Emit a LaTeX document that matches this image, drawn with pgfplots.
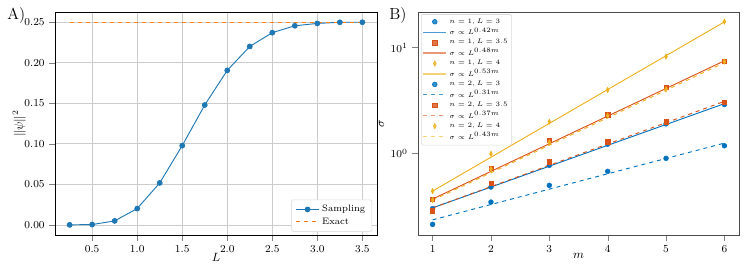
\documentclass[border=0pt]{standalone}
\usepackage{pgfplots}
\pgfplotsset{compat=1.18}
\definecolor{tabblue}{HTML}{1F77B4}
\definecolor{taborange}{HTML}{FF7F0E}
\definecolor{mblue}{RGB}{0,114,189}
\definecolor{mred}{RGB}{217,83,25}
\definecolor{morange}{RGB}{237,177,32}
\begin{document}
\begin{tikzpicture}
\path[use as bounding box] (0pt,0pt) rectangle (560.25pt,198pt);
% Panel A
\begin{axis}[
  at={(41.25pt,21.75pt)}, anchor=south west, scale only axis,
  width=241.5pt, height=167.25pt,
  xmin=0.0875, xmax=3.6625, ymin=-0.0125, ymax=0.2625,
  xtick={0.5,1.0,1.5,2.0,2.5,3.0,3.5},
  ytick={0,0.05,0.10,0.15,0.20,0.25},
  xticklabel style={/pgf/number format/.cd,fixed,fixed zerofill,precision=1},
  yticklabel style={/pgf/number format/.cd,fixed,fixed zerofill,precision=2},
  scaled y ticks=false,
  tick label style={font=\footnotesize},
  label style={font=\small},
  grid=major, major grid style={gray!40, line width=0.5pt},
  tick align=outside, tick pos=left,
  xlabel={$L$}, ylabel={$\|\psi\|^2$},
  xlabel style={yshift=6pt}, ylabel style={yshift=-8pt},
  legend style={at={(0.985,0.015)}, anchor=south east, font=\scriptsize, draw=gray!30, rounded corners=1pt, row sep=-1pt},
  legend cell align=left,
]
\addplot[tabblue, line width=0.7pt, mark=*, mark size=1.8pt] coordinates {
(0.25,0.0) (0.5,0.0004) (0.75,0.0049) (1.0,0.0201) (1.25,0.0517) (1.5,0.0977)
(1.75,0.1478) (2.0,0.1905) (2.25,0.2200) (2.5,0.2370) (2.75,0.2455) (3.0,0.2484)
(3.25,0.2498) (3.5,0.2499)};
\addlegendentry{Sampling}
\addplot[taborange, dashed, line width=0.6pt, legend image post style={line width=0.8pt}] coordinates {(0.25,0.25) (3.5,0.25)};
\addlegendentry{Exact}
\end{axis}
\node[anchor=north west, font=\large] at (2pt,196pt) {A)};
% Panel B
\begin{axis}[
  at={(313.5pt,21.75pt)}, anchor=south west, scale only axis,
  width=240.75pt, height=167.25pt,
  ymode=log, log basis y=10,
  xmin=0.75, xmax=6.25, ymin=0.169, ymax=21.7,
  xtick={1,2,3,4,5,6},
  ytick={1,10},
  tick label style={font=\footnotesize},
  label style={font=\small},
  axis line style={black!70},
  tick align=outside, tick pos=left,
  xlabel={$m$}, ylabel={$\sigma$},
  xlabel style={yshift=6pt}, ylabel style={yshift=-2pt},
  legend style={at={(0.01,0.99)}, anchor=north west, font=\tiny, draw=gray!30, rounded corners=1pt, row sep=-2.0pt, inner sep=1pt, fill opacity=0.8, text opacity=1},
  legend cell align=left,
]
% n=1, L=3
\addplot[only marks, mark=*, mark size=1.8pt, mblue] coordinates {
(1,0.30) (2,0.48) (3,0.77) (4,1.22) (5,1.90) (6,2.90)};
\addlegendentry{$n=1, L=3$}
\addplot[mblue, line width=0.7pt, legend image post style={draw=mblue!70, line width=0.9pt}] coordinates {(1,0.305) (6,2.95)};
\addlegendentry{$\sigma\propto L^{0.42m}$}
% n=1, L=3.5
\addplot[only marks, mark=square*, mark size=1.6pt, mred] coordinates {
(1,0.367) (2,0.721) (3,1.32) (4,2.31) (5,4.21) (6,7.48)};
\addlegendentry{$n=1, L=3.5$}
\addplot[mred, line width=0.7pt, legend image post style={draw=mred!60, line width=0.9pt}] coordinates {(1,0.37) (6,7.5)};
\addlegendentry{$\sigma\propto L^{0.48m}$}
% n=1, L=4
\addplot[only marks, mark=diamond*, mark size=2.0pt, mark options={xscale=0.7}, morange] coordinates {
(1,0.44) (2,0.99) (3,1.99) (4,3.98) (5,8.22) (6,17.6)};
\addlegendentry{$n=1, L=4$}
\addplot[morange, line width=0.7pt, legend image post style={draw=morange!60, line width=0.9pt}] coordinates {(1,0.44) (6,17.5)};
\addlegendentry{$\sigma\propto L^{0.53m}$}
% n=2, L=3
\addplot[only marks, mark=*, mark size=1.8pt, mblue] coordinates {
(1,0.213) (2,0.346) (3,0.498) (4,0.676) (5,0.897) (6,1.18)};
\addlegendentry{$n=2, L=3$}
\addplot[mblue, dashed, line width=0.7pt, legend image post style={draw=mblue!70, line width=0.9pt}] coordinates {(1,0.235) (6,1.25)};
\addlegendentry{$\sigma\propto L^{0.31m}$}
% n=2, L=3.5
\addplot[only marks, mark=square*, mark size=1.6pt, mred] coordinates {
(1,0.287) (2,0.52) (3,0.834) (4,1.29) (5,1.99) (6,3.04)};
\addlegendentry{$n=2, L=3.5$}
\addplot[mred, dashed, line width=0.7pt, legend image post style={draw=mred!60, line width=0.9pt}] coordinates {(1,0.305) (6,3.1)};
\addlegendentry{$\sigma\propto L^{0.37m}$}
% n=2, L=4
\addplot[only marks, mark=diamond*, mark size=2.0pt, mark options={xscale=0.7}, morange] coordinates {
(1,0.362) (2,0.711) (3,1.27) (4,2.27) (5,4.03) (6,7.37)};
\addlegendentry{$n=2, L=4$}
\addplot[morange, dashed, line width=0.7pt, legend image post style={draw=morange!60, line width=0.9pt}] coordinates {(1,0.36) (6,7.2)};
\addlegendentry{$\sigma\propto L^{0.43m}$}
\end{axis}
\node[anchor=north west, font=\large] at (288.5pt,196pt) {B)};
\end{tikzpicture}
\end{document}
